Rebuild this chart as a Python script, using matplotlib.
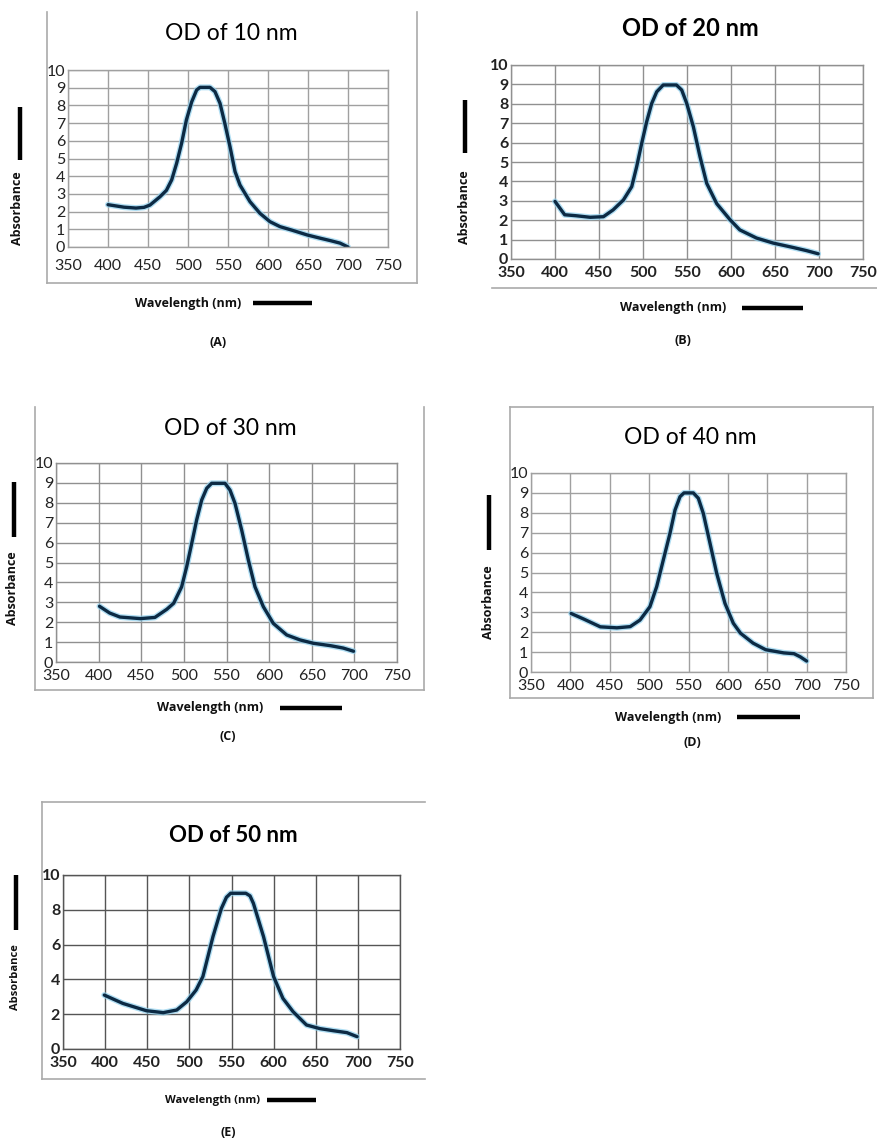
import matplotlib
matplotlib.use('Agg')
import matplotlib.pyplot as plt
import matplotlib.patheffects as pe
from matplotlib.lines import Line2D

plt.rcParams['font.family'] = ['Lato', 'DejaVu Sans']

W, H = 877, 1140

# ---- data ----
wl_a = [400, 420, 435, 445, 452.5, 465, 473, 479.6, 485.8, 492, 498, 504.6, 510.8, 515, 527.5, 533.7, 540, 546,
        552.5, 558.8, 565, 577.5, 590, 602.5, 615, 630, 649, 665, 678, 690, 700]
abs_a = [2.39, 2.25, 2.2, 2.24, 2.37, 2.84, 3.2, 3.79, 4.73, 5.86, 7.18, 8.2, 8.87, 9.02, 9.02, 8.78, 8.12, 6.99,
         5.67, 4.26, 3.5, 2.56, 1.9, 1.43, 1.15, 0.95, 0.68, 0.5, 0.36, 0.22, 0.0]

wl_b = [400, 411, 424, 440, 455, 466, 477.7, 487.2, 492.8, 498.5, 504.2, 509.9, 515.6, 523, 538, 544, 549.7, 557.2,
        564.8, 572.4, 583.8, 599, 610, 629, 648, 670, 686, 699]
abs_b = [2.97, 2.28, 2.23, 2.15, 2.18, 2.53, 3.04, 3.73, 4.76, 5.96, 7.08, 8.02, 8.62, 8.97, 8.97, 8.71, 8.02, 6.82,
         5.27, 3.9, 2.85, 2.02, 1.5, 1.08, 0.82, 0.6, 0.43, 0.27]

wl_c = [401, 413, 425, 449, 466, 480, 488, 497.4, 503.3, 509.2, 515, 520.9, 526.8, 532.6, 548.2, 554.1, 560, 567.8,
        575.6, 583.4, 593.2, 604.9, 620.6, 636.2, 652, 672, 687, 699]
abs_c = [2.8, 2.46, 2.26, 2.18, 2.24, 2.65, 2.95, 3.78, 4.79, 5.96, 7.14, 8.14, 8.73, 8.98, 8.98, 8.64, 7.97, 6.63,
         5.13, 3.78, 2.78, 1.94, 1.36, 1.11, 0.94, 0.82, 0.7, 0.54]

wl_d = [401, 417, 438, 459, 476, 488.4, 501, 509.6, 518, 526.5, 532.9, 539.2, 544.3, 556.1, 562.5, 568.8, 577.3,
        585.8, 596.3, 606.9, 616, 632, 648, 671, 684, 692, 700]
abs_d = [2.94, 2.66, 2.27, 2.22, 2.28, 2.61, 3.28, 4.29, 5.63, 6.97, 8.14, 8.81, 9.0, 9.0, 8.73, 7.97, 6.47,
         4.96, 3.45, 2.45, 1.95, 1.45, 1.12, 0.96, 0.92, 0.76, 0.55]

wl_e = [399, 421, 449, 469, 485, 497, 508, 516, 528, 538, 544, 549, 567, 572, 576, 588, 600, 611, 623, 639, 655,
        671, 687, 699]
abs_e = [3.1, 2.62, 2.2, 2.09, 2.24, 2.72, 3.39, 4.16, 6.46, 8.08, 8.72, 8.95, 8.95, 8.8, 8.37, 6.46, 4.16, 2.91,
         2.15, 1.38, 1.17, 1.05, 0.94, 0.71]

titles = ['OD of 10 nm', 'OD of 20 nm', 'OD of 30 nm', 'OD of 40 nm', 'OD of 50 nm']
letters = ['(A)', '(B)', '(C)', '(D)', '(E)']
x_ticks = [350, 400, 450, 500, 550, 600, 650, 700, 750]

fig = plt.figure(figsize=(W / 100, H / 100), dpi=100)

LAB = dict(fontsize=9, fontweight='bold', family=['Open Sans', 'DejaVu Sans'], color='#111111')


def px_axes(l, t, r, b):
    return fig.add_axes([l / W, 1 - b / H, (r - l) / W, (b - t) / H])


def fx(x):
    return x / W


def fy(y):
    return 1 - y / H


def frame(segs, color='#aaaaaa', lw=1.2):
    for (x0, y0, x1, y1) in segs:
        fig.add_artist(Line2D([fx(x0), fx(x1)], [fy(y0), fy(y1)], color=color, lw=lw,
                              transform=fig.transFigure))


def bar(x0, y0, x1, y1):
    fig.add_artist(Line2D([fx(x0), fx(x1)], [fy(y0), fy(y1)], color='black', lw=3.2,
                          solid_capstyle='butt', transform=fig.transFigure))


def draw_panel(box, wl, ab, title, title_pos, title_kw, ystep, bold_ticks, grid_color, xpad,
               ylab_pos, ybar, xlab_pos, xbar, letter_pos, letter, lab_kw=LAB):
    ax = px_axes(*box)
    ax.plot(wl, ab, color='#0c2a44', lw=2.4, solid_capstyle='round', solid_joinstyle='round',
            path_effects=[pe.Stroke(linewidth=4.3, foreground='#8fd0ee', alpha=0.7), pe.Normal()])
    ax.set_xlim(350, 750)
    ax.set_ylim(0, 10)
    ax.set_xticks(x_ticks)
    ax.set_yticks(list(range(0, 11, ystep)))
    ax.grid(True, color=grid_color, lw=1.0)
    ax.set_axisbelow(True)
    for s in ax.spines.values():
        s.set_color(grid_color)
        s.set_linewidth(1.0)
    ax.tick_params(length=0, pad=2, labelsize=11.5, colors='#222222')
    ax.tick_params(axis='x', pad=xpad)
    if bold_ticks:
        for lab in ax.get_xticklabels() + ax.get_yticklabels():
            lab.set_fontweight('bold')
    fig.text(fx(title_pos[0]), fy(title_pos[1]), title, ha='center', va='center', **title_kw)
    fig.text(fx(ylab_pos[0]), fy(ylab_pos[1]), 'Absorbance', rotation=90, ha='center', va='center', **lab_kw)
    bar(ybar[0], ybar[1], ybar[0], ybar[2])
    fig.text(fx(xlab_pos[0]), fy(xlab_pos[1]), 'Wavelength (nm)', ha='center', va='center', **lab_kw)
    bar(xbar[0], xbar[2], xbar[1], xbar[2])
    fig.text(fx(letter_pos[0]), fy(letter_pos[1]), letter, ha='center', va='center', **LAB)
    return ax


# (A)
draw_panel((68, 70, 388, 247), wl_a, abs_a, titles[0], (231, 33), dict(fontsize=16.5), 1, False, '#a0a0a0', 9,
           (18, 208), (20, 107, 160), (188, 303), (253, 312, 303), (218, 342), letters[0])
frame([(47, 12, 47, 283), (47, 283, 417, 283), (417, 12, 417, 283)])

# (B)
draw_panel((511, 65, 863, 259), wl_b, abs_b, titles[1], (690, 28), dict(fontsize=17, fontweight='bold'),
           1, True, '#909090', 5, (465, 207), (465, 100, 153), (673, 308), (742, 803, 308), (683, 340), letters[1])
frame([(492, 288, 877, 288)])

# (C)
draw_panel((56, 463, 397, 662), wl_c, abs_c, titles[2], (230, 428), dict(fontsize=16.5), 1, False, '#909090', 5,
           (13, 588), (14, 482, 537), (210, 708), (280, 342, 708), (228, 737), letters[2])
frame([(35, 407, 35, 690), (35, 690, 424, 690), (424, 407, 424, 690)])

# (D)
draw_panel((531, 473, 846, 672), wl_d, abs_d, titles[3], (690, 438), dict(fontsize=16.5), 1, False, '#a0a0a0', 5,
           (488, 602), (489, 495, 550), (668, 717), (737, 800, 717), (692, 743), letters[3])
frame([(510, 407, 873, 407), (510, 407, 510, 698), (510, 698, 873, 698), (873, 407, 873, 698)])

# (E)
lab_e = dict(LAB, fontsize=8)
draw_panel((63, 875, 400, 1049), wl_e, abs_e, titles[4], (233, 835),
           dict(fontsize=16, fontweight='bold', fontstretch='condensed'), 2, True, '#555555', 5,
           (15, 977), (16, 875, 930), (213, 1100), (267, 316, 1100), (228, 1132), letters[4], lab_kw=lab_e)
frame([(42, 802, 425, 802), (42, 802, 42, 1079), (42, 1079, 425, 1079)])

fig.savefig('out.png', dpi=100)
